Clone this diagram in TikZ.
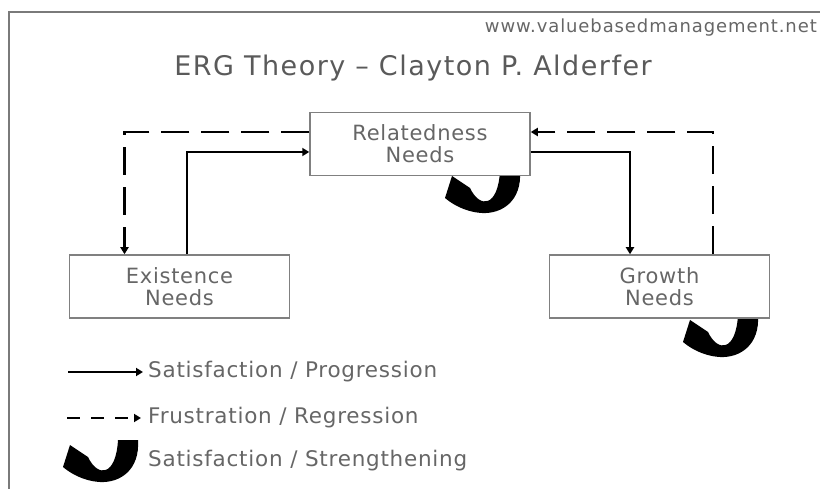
\documentclass[tikz,border=0pt]{standalone}
\usepackage{fontspec}
\setmainfont{DejaVu Sans}
\newfontfamily\titlefont[LetterSpace=5.5]{DejaVu Sans}
\newfontfamily\webfont[LetterSpace=5]{DejaVu Sans}
\newfontfamily\labelfont[LetterSpace=3.5]{DejaVu Sans}
\usetikzlibrary{arrows.meta}
\definecolor{txt}{HTML}{666666}
\definecolor{titletxt}{HTML}{5a5a5a}
\definecolor{framegray}{HTML}{7a7a7a}
\definecolor{boxgray}{HTML}{808080}
\begin{document}
\begin{tikzpicture}[x=1pt,y=-1pt,
  needbox/.style={draw=boxgray, line width=1.5pt, fill=white,
    minimum width=220pt, minimum height=63pt, inner sep=0pt,
    text=txt, align=center, font=\labelfont\fontsize{21}{22}\selectfont},
  flow/.style={line width=2.2pt, -{Triangle[length=7pt,width=8pt]}},
  regress/.style={flow, dash pattern=on 28pt off 12pt},
  legendtext/.style={anchor=west, text=txt, inner sep=0pt,
    font=\labelfont\fontsize{21.5}{22}\selectfont},
  hook/.pic={
    \fill[black] (0,-2) .. controls (2,28) and (-18,41) .. (-38,40)
      .. controls (-55,39) and (-68,31) .. (-75,25)
      -- (-68,3) -- (-50,15)
      .. controls (-40,36) and (-22,34) .. (-20,-2) -- cycle;
  }]
\useasboundingbox (0,0) rectangle (820,489);

% outer frame (open to the right and bottom)
\draw[framegray, line width=2pt] (9,489) -- (9,12) -- (820,12);

% header
\node[anchor=east, text=txt, inner sep=0pt, font=\webfont\fontsize{18}{20}\selectfont]
  (web) at (817,28) {www.valuebasedmanagement.net};
\node[text=titletxt, inner sep=0pt, font=\titlefont\fontsize{27}{30}\selectfont]
  (title) at (413,68) {ERG Theory – Clayton P. Alderfer};

% self-strengthening hooks beneath the boxes
\pic at (520,173) {hook};
\pic at (758,317) {hook};

% the three need categories
\node[needbox] (rel) at (420,144) {Relatedness\\Needs};
\node[needbox] (exi) at (179.5,286.5) {Existence\\Needs};
\node[needbox] (gro) at (659.5,286.5) {Growth\\Needs};

% progression (solid) and regression (dashed)
\draw[regress] ([yshift=12pt]rel.west) -| ([xshift=-55pt]exi.north);
\draw[flow] ([xshift=7.5pt]exi.north) |- ([yshift=-8pt]rel.west);
\draw[flow] ([yshift=-8pt]rel.east) -| ([xshift=-29.5pt]gro.north);
\draw[regress] ([xshift=53.5pt]gro.north) |- ([yshift=12pt]rel.east);

% legend
\coordinate (la) at (68,372);
\coordinate (lb) at (143,372);
\draw[flow] (la) -- (lb);
\node[legendtext] (ltxt1) at (148,372) {Satisfaction / Progression};

\coordinate (lc) at (67,418);
\coordinate (ld) at (141,418);
\draw[flow, dash pattern=on 13pt off 11pt] (lc) -- (ld);
\node[legendtext] (ltxt2) at (148,418) {Frustration / Regression};

\pic at (138,442) {hook};
\node[legendtext] (ltxt3) at (148,461) {Satisfaction / Strengthening};
\end{tikzpicture}
\end{document}
